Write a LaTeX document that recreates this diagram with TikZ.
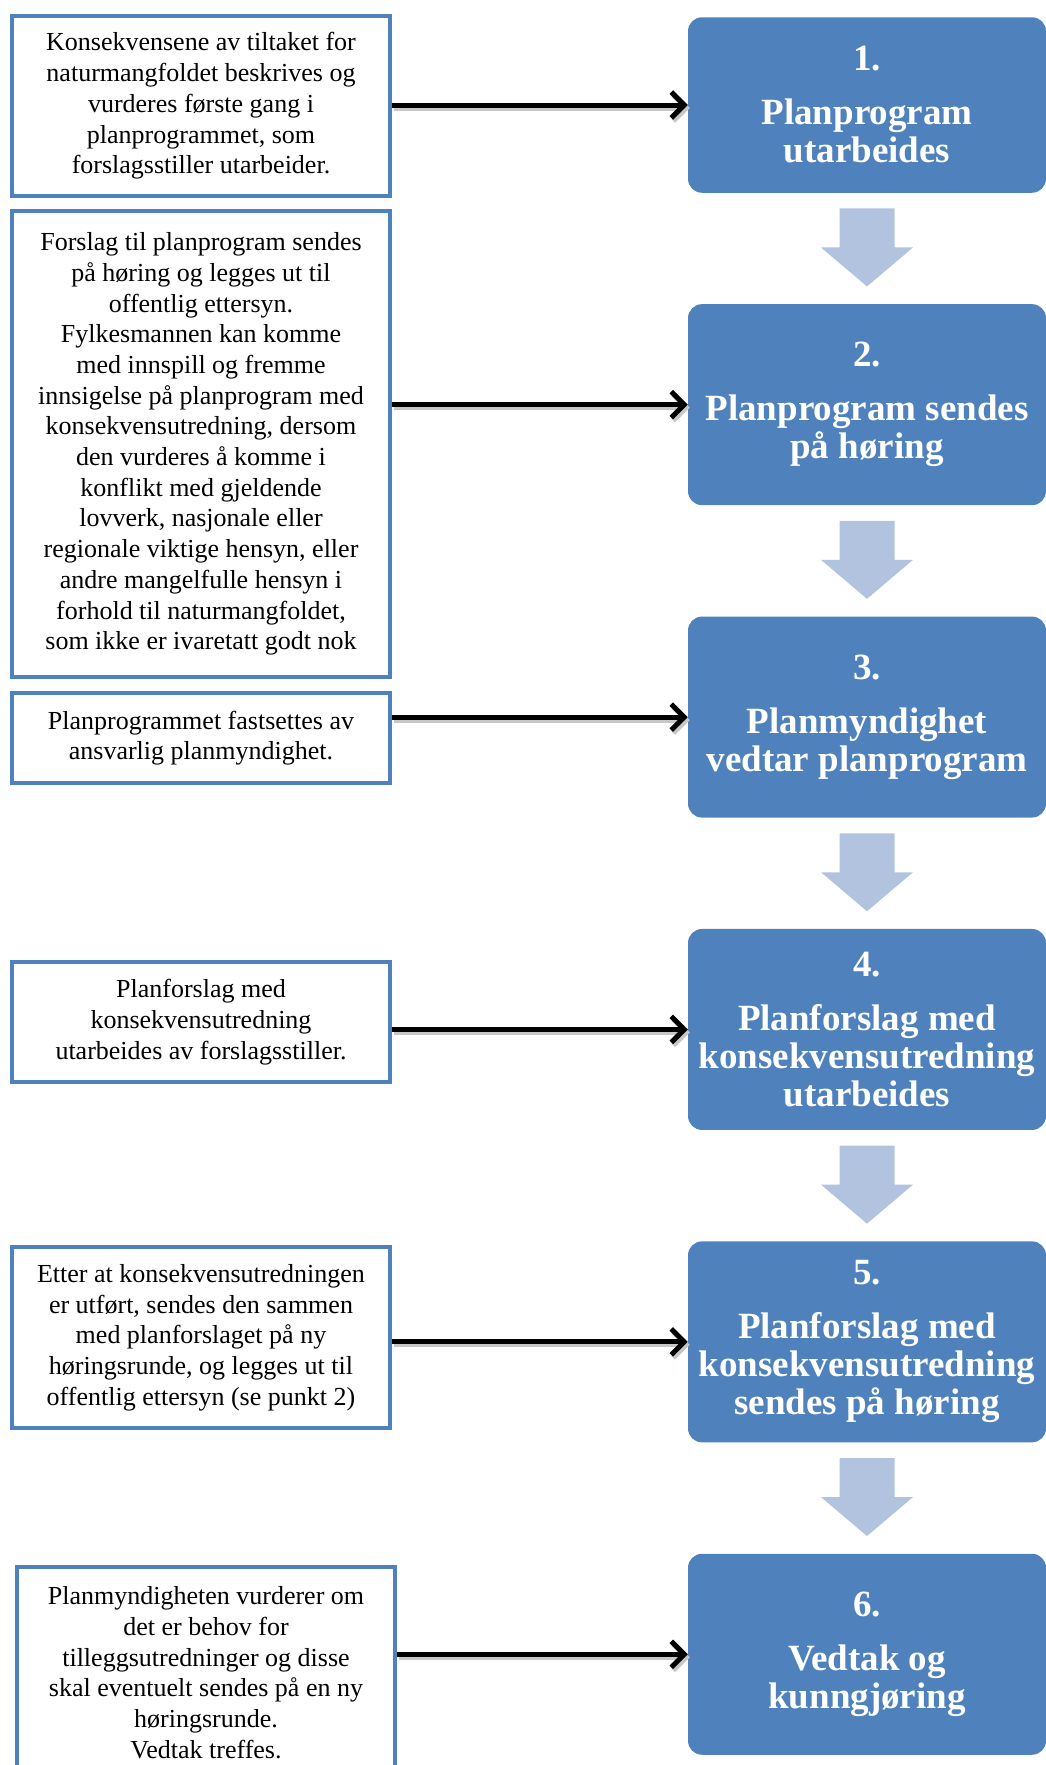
\documentclass[tikz,border=0pt]{standalone}
\usepackage{fontspec}
\setmainfont{Liberation Serif}
\usetikzlibrary{positioning,arrows.meta}

\definecolor{stepblue}{HTML}{4F81BD}
\definecolor{flowblue}{HTML}{B2C3DF}

\tikzset{
	infobox/.style={draw=stepblue, line width=4pt, fill=white, align=center, minimum width=378pt, inner sep=0pt, font=\fontsize{26}{30.7}\selectfont},
	stepbox/.style={fill=stepblue, rounded corners=14pt, text=white, align=center, minimum width=358pt, minimum height=201pt, inner sep=0pt, font=\fontsize{37}{38}\selectfont\bfseries},
	link/.style={line width=5pt, -{Straight Barb[length=13pt,width=26pt]}},
	linkshadow/.style={line width=5pt, draw=black!22, -{Straight Barb[length=13pt,width=26pt]}, transform canvas={shift={(2pt,-3pt)}}},
	flow/.style={fill=flowblue}
}

\begin{document}
\begin{tikzpicture}[x=1pt,y=-1pt]

		\useasboundingbox (0,0) rectangle (1046,1765);

		% steps on the right
		\node[stepbox, minimum height=175.5pt] (r1) at (867,105) {1.\\[16pt]Planprogram\\utarbeides};
		\node[stepbox, below=111pt of r1] (r2) {2.\\[16pt]Planprogram sendes\\på høring};
		\node[stepbox, below=111pt of r2] (r3) {3.\\[16pt]Planmyndighet\\vedtar planprogram};
		\node[stepbox, below=111pt of r3] (r4) {4.\\[16pt]Planforslag med\\konsekvensutredning\\utarbeides};
		\node[stepbox, below=111pt of r4] (r5) {5.\\[16pt]Planforslag med\\konsekvensutredning\\sendes på høring};
		\node[stepbox, below=111pt of r5] (r6) {6.\\[16pt]Vedtak og\\kunngjøring};

		% notes on the left
		\node[infobox, minimum height=180pt] (l1) at (201,106) {Konsekvensene av tiltaket for\\naturmangfoldet beskrives og\\vurderes første gang i\\planprogrammet, som\\forslagsstiller utarbeider.};
		\node[infobox, minimum height=466pt] (l2) at (201,444) {Forslag til planprogram sendes\\på høring og legges ut til\\offentlig ettersyn.\\Fylkesmannen kan komme\\med innspill og fremme\\innsigelse på planprogram med\\konsekvensutredning, dersom\\den vurderes å komme i\\konflikt med gjeldende\\lovverk, nasjonale eller\\regionale viktige hensyn, eller\\andre mangelfulle hensyn i\\forhold til naturmangfoldet,\\som ikke er ivaretatt godt nok};
		\node[infobox, minimum height=90pt] (l3) at (201,738) {Planprogrammet fastsettes av\\ansvarlig planmyndighet.};
		\node[infobox, minimum height=120pt] (l4) at (201,1022) {Planforslag med\\konsekvensutredning\\utarbeides av forslagsstiller.};
		\node[infobox, minimum height=181pt] (l5) at (201,1337.5) {Etter at konsekvensutredningen\\er utført, sendes den sammen\\med planforslaget på ny\\høringsrunde, og legges ut til\\offentlig ettersyn (se punkt 2)};
		\node[infobox, minimum height=211pt] (l6) at (206,1672.6) {Planmyndigheten vurderer om\\det er behov for\\tilleggsutredninger og disse\\skal eventuelt sendes på en ny\\høringsrunde.\\Vedtak treffes.};

		% arrows
		\foreach \i in {1,...,6}
		{
		\draw[linkshadow] (l\i.east |- r\i.west) -- (r\i.west);
		\draw[link] (l\i.east |- r\i.west) -- (r\i.west);
		}

		\foreach \i in {1,...,5}
		\fill[flow] (r\i.south) ++(-27.5,15.5) -- ++(55,0) -- ++(0,39) -- ++(18.5,0) -- ++(-46,39) -- ++(-46,-39) -- ++(18.5,0) -- cycle;

\end{tikzpicture}
\end{document}
